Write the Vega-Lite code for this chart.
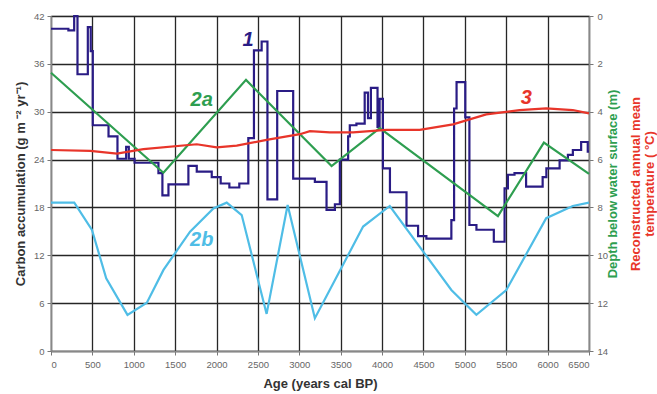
{
  "$schema": "https://vega.github.io/schema/vega-lite/v6.json",
  "width": 538,
  "height": 335,
  "autosize": {"type": "none"},
  "padding": {"left": 51, "top": 16, "right": 68, "bottom": 43},
  "background": "white",
  "config": {
    "font": "Liberation Sans",
    "view": {"stroke": "#9a9a9a", "strokeWidth": 1.2},
    "axis": {
      "labelFont": "Liberation Sans",
      "labelFontSize": 9.5,
      "labelColor": "#666666",
      "tickColor": "#777777",
      "tickSize": 4,
      "domainColor": "#888888",
      "domainWidth": 1.5,
      "gridColor": "#262626",
      "gridWidth": 1.3,
      "gridOpacity": 1,
      "titleFont": "Liberation Sans",
      "titleFontSize": 13,
      "titleFontWeight": "bold",
      "titleColor": "#333333"
    }
  },
  "datasets": {
    "c1": [
      {"year": 0, "v": 40.4}, {"year": 210, "v": 40.2}, {"year": 280, "v": 42}, {"year": 320, "v": 34.7},
      {"year": 445, "v": 40.6}, {"year": 480, "v": 37.6}, {"year": 505, "v": 28.3}, {"year": 695, "v": 26.9},
      {"year": 803, "v": 24.1}, {"year": 908, "v": 25.6}, {"year": 940, "v": 24.1}, {"year": 1010, "v": 23.6},
      {"year": 1298, "v": 22.3}, {"year": 1346, "v": 19.5}, {"year": 1419, "v": 20.9}, {"year": 1660, "v": 23.2},
      {"year": 1761, "v": 22.5}, {"year": 1942, "v": 21.8}, {"year": 2050, "v": 21.0}, {"year": 2155, "v": 20.5},
      {"year": 2275, "v": 21.0}, {"year": 2384, "v": 26.7}, {"year": 2452, "v": 37.7}, {"year": 2545, "v": 38.8},
      {"year": 2615, "v": 19.0}, {"year": 2733, "v": 32.6}, {"year": 2926, "v": 21.6}, {"year": 3188, "v": 21.2},
      {"year": 3329, "v": 17.7}, {"year": 3430, "v": 18.4}, {"year": 3490, "v": 24.0}, {"year": 3590, "v": 26.9},
      {"year": 3610, "v": 28.3}, {"year": 3690, "v": 28.5}, {"year": 3790, "v": 32.4}, {"year": 3830, "v": 29.2},
      {"year": 3865, "v": 33.0}, {"year": 3945, "v": 28.1}, {"year": 3970, "v": 31.6}, {"year": 4010, "v": 22.9},
      {"year": 4095, "v": 19.9}, {"year": 4295, "v": 15.7}, {"year": 4435, "v": 14.4}, {"year": 4535, "v": 14.1},
      {"year": 4837, "v": 16.4}, {"year": 4870, "v": 30.4}, {"year": 4900, "v": 33.7}, {"year": 5005, "v": 29.3},
      {"year": 5055, "v": 15.8}, {"year": 5140, "v": 15.2}, {"year": 5350, "v": 13.7}, {"year": 5480, "v": 20.4},
      {"year": 5520, "v": 22.1}, {"year": 5600, "v": 22.3}, {"year": 5740, "v": 20.6}, {"year": 5940, "v": 21.8},
      {"year": 5985, "v": 22.9}, {"year": 6145, "v": 23.9}, {"year": 6245, "v": 24.6}, {"year": 6305, "v": 25.2},
      {"year": 6405, "v": 26.2}, {"year": 6485, "v": 25.0}, {"year": 6500, "v": 25.0}
    ],
    "depth": [
      {"s": "2a", "year": 0, "d": 2.37}, {"s": "2a", "year": 1358, "d": 6.55}, {"s": "2a", "year": 2356, "d": 2.67},
      {"s": "2a", "year": 3390, "d": 6.27}, {"s": "2a", "year": 3972, "d": 4.69}, {"s": "2a", "year": 5400, "d": 8.36},
      {"s": "2a", "year": 5955, "d": 5.29}, {"s": "2a", "year": 6500, "d": 6.6},
      {"s": "2b", "year": 0, "d": 7.8}, {"s": "2b", "year": 281, "d": 7.8}, {"s": "2b", "year": 495, "d": 8.94},
      {"s": "2b", "year": 667, "d": 10.96}, {"s": "2b", "year": 924, "d": 12.49}, {"s": "2b", "year": 1158, "d": 11.98},
      {"s": "2b", "year": 1359, "d": 10.61}, {"s": "2b", "year": 1680, "d": 9.01}, {"s": "2b", "year": 1962, "d": 8.04},
      {"s": "2b", "year": 2123, "d": 7.8}, {"s": "2b", "year": 2304, "d": 8.32}, {"s": "2b", "year": 2605, "d": 12.45},
      {"s": "2b", "year": 2859, "d": 7.9}, {"s": "2b", "year": 3188, "d": 12.63}, {"s": "2b", "year": 3771, "d": 8.8},
      {"s": "2b", "year": 4093, "d": 7.94}, {"s": "2b", "year": 4837, "d": 11.45}, {"s": "2b", "year": 5139, "d": 12.49},
      {"s": "2b", "year": 5501, "d": 11.45}, {"s": "2b", "year": 5983, "d": 8.45}, {"s": "2b", "year": 6304, "d": 7.94},
      {"s": "2b", "year": 6500, "d": 7.8}
    ],
    "t3": [
      {"year": 0, "t": 5.6}, {"year": 474, "t": 5.64}, {"year": 796, "t": 5.75}, {"year": 1117, "t": 5.56},
      {"year": 1761, "t": 5.36}, {"year": 2002, "t": 5.49}, {"year": 2244, "t": 5.42}, {"year": 2605, "t": 5.18},
      {"year": 3007, "t": 4.94}, {"year": 3128, "t": 4.81}, {"year": 3369, "t": 4.86}, {"year": 3650, "t": 4.86},
      {"year": 4053, "t": 4.76}, {"year": 4455, "t": 4.76}, {"year": 4857, "t": 4.53}, {"year": 5259, "t": 4.11},
      {"year": 5661, "t": 3.93}, {"year": 5983, "t": 3.86}, {"year": 6304, "t": 3.93}, {"year": 6500, "t": 4.07}
    ],
    "labels": [
      {"lab": "1", "year": 2380, "v": 39.0},
      {"lab": "2a", "year": 1821, "v": 31.45},
      {"lab": "3", "year": 5742, "v": 31.7},
      {"lab": "2b", "year": 1821, "v": 13.9}
    ]
  },
  "layer": [
    {
      "layer": [
        {
          "data": {"name": "c1"},
          "mark": {"type": "line", "interpolate": "step-after", "color": "#2a1c85", "strokeWidth": 2.2},
          "encoding": {
            "x": {
              "field": "year", "type": "quantitative",
              "scale": {"domain": [0, 6500], "nice": false, "zero": false},
              "axis": {"values": [0, 500, 1000, 1500, 2000, 2500, 3000, 3500, 4000, 4500, 5000, 5500, 6000, 6500],
                       "format": "d", "grid": true, "title": "Age (years cal BP)", "titlePadding": 9, "labelPadding": 4}
            },
            "y": {
              "field": "v", "type": "quantitative",
              "scale": {"domain": [0, 42], "nice": false},
              "axis": {"orient": "left", "values": [0, 6, 12, 18, 24, 30, 36, 42], "grid": true,
                       "title": "Carbon accumulation (g m ⁻² yr⁻¹)", "titlePadding": 6, "labelPadding": 3}
            }
          }
        },
        {
          "data": {"name": "labels"},
          "mark": {"type": "text", "fontSize": 20, "fontWeight": "bold", "fontStyle": "italic", "align": "center", "baseline": "middle"},
          "encoding": {
            "x": {"field": "year", "type": "quantitative"},
            "y": {"field": "v", "type": "quantitative"},
            "text": {"field": "lab"},
            "color": {"field": "lab", "type": "nominal",
                      "scale": {"domain": ["1", "2a", "3", "2b"], "range": ["#2a1c85", "#2e9e50", "#e8352a", "#4fbde6"]},
                      "legend": null}
          }
        }
      ]
    },
    {
      "data": {"name": "depth"},
      "mark": {"type": "line", "strokeWidth": 2.2},
      "encoding": {
        "x": {"field": "year", "type": "quantitative"},
        "y": {
          "field": "d", "type": "quantitative",
          "scale": {"domain": [0, 14], "nice": false, "reverse": true},
          "axis": {"orient": "right", "values": [0, 2, 4, 6, 8, 10, 12, 14], "grid": false,
                   "title": "Depth below water surface (m)", "titleColor": "#2e9e50", "titleAngle": 270,
                   "titlePadding": 12, "labelPadding": 4}
        },
        "color": {"field": "s", "type": "nominal",
                  "scale": {"domain": ["2a", "2b"], "range": ["#2e9e50", "#4fbde6"]}, "legend": null}
      }
    },
    {
      "data": {"name": "t3"},
      "mark": {"type": "line", "color": "#e8352a", "strokeWidth": 2.2},
      "encoding": {
        "x": {"field": "year", "type": "quantitative"},
        "y": {
          "field": "t", "type": "quantitative",
          "scale": {"domain": [0, 14], "nice": false, "reverse": true},
          "axis": {"orient": "right", "labels": false, "ticks": false, "domain": false, "grid": false,
                   "title": ["Reconstructed annual mean", "temperature ( °C)"], "titleColor": "#e8352a",
                   "titleAngle": 270, "titlePadding": 39, "titleLineHeight": 14}
        }
      }
    }
  ],
  "resolve": {"scale": {"y": "independent", "color": "independent"}}
}
